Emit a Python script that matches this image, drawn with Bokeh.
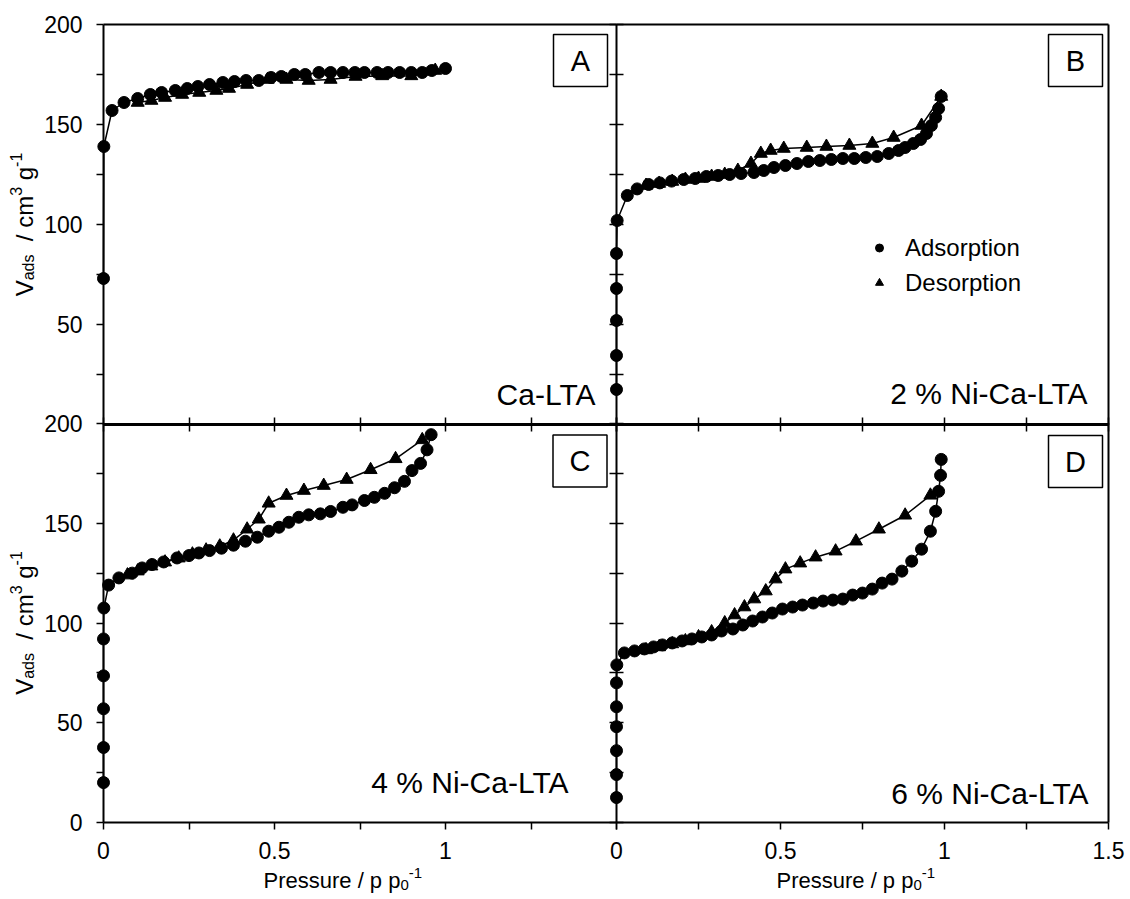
from bokeh.plotting import figure
from bokeh.models import (Range1d, LinearAxis, FixedTicker, CustomJSTickFormatter, Label,
                          Legend, LegendItem, Grid)
from bokeh.embed import file_html
from bokeh.resources import INLINE

# ---------------- data ----------------
# Panel A : Ca-LTA
A_ads_p = [0.0, 0.001, 0.025, 0.06, 0.10, 0.137, 0.17, 0.21, 0.245, 0.276, 0.31, 0.349, 0.383, 0.417, 0.454,
           0.49, 0.52, 0.558, 0.59, 0.63, 0.664, 0.70, 0.735, 0.763, 0.80, 0.832, 0.866, 0.90, 0.932, 0.96, 1.0]
A_ads_v = [73, 139, 157, 161, 163, 165, 166, 167, 168, 169, 170, 171, 171.5, 172, 172,
           173.5, 174, 175, 175, 176, 176, 176, 176, 176, 176, 176, 176, 176, 176, 177, 178]
A_des_p = [0.97, 0.90, 0.815, 0.737, 0.664, 0.60, 0.535, 0.48, 0.42, 0.367, 0.33, 0.28, 0.23, 0.18, 0.14, 0.10]
A_des_v = [177, 174.3, 174.3, 174, 172.5, 172, 172.5, 172.5, 170, 168, 167, 166, 165, 163.5, 162, 161]

# Panel B : 2 % Ni-Ca-LTA
B_ads_p = [0, 0, 0, 0, 0, 0.002, 0.033, 0.063, 0.098, 0.132, 0.168, 0.205, 0.24, 0.274, 0.31, 0.345, 0.38,
           0.419, 0.449, 0.48, 0.515, 0.55, 0.585, 0.62, 0.655, 0.69, 0.725, 0.76, 0.795, 0.83, 0.86, 0.88,
           0.905, 0.927, 0.945, 0.96, 0.973, 0.982, 0.99]
B_ads_v = [17.5, 34.5, 52, 68, 85.5, 102, 114.5, 117.8, 120, 120.8, 121.7, 122.5, 123, 124, 124.5, 125, 125.5,
           126, 127, 128.5, 129.5, 130.5, 131.5, 132, 132.5, 133, 133, 133.5, 134, 135.5, 137, 138.5,
           140.5, 142.5, 145.5, 149.5, 153.5, 158, 164]
B_des_p = [0.99, 0.93, 0.845, 0.78, 0.71, 0.64, 0.58, 0.51, 0.47, 0.44, 0.41, 0.37, 0.33, 0.29, 0.25, 0.21,
           0.17, 0.13, 0.09]
B_des_v = [164, 149.5, 143.5, 140.5, 139.5, 139, 138.5, 138, 137, 135.5, 130.5, 127, 125, 124, 123, 122.5,
           121.5, 120.5, 119.5]

# Panel C : 4 % Ni-Ca-LTA
C_ads_p = [0, 0, 0, 0, 0, 0.001, 0.015, 0.045, 0.084, 0.113, 0.142, 0.176, 0.215, 0.25, 0.279, 0.31, 0.345,
           0.38, 0.415, 0.45, 0.483, 0.513, 0.542, 0.571, 0.60, 0.634, 0.664, 0.70, 0.727, 0.763, 0.792,
           0.822, 0.851, 0.88, 0.902, 0.927, 0.946, 0.958]
C_ads_v = [20, 37.6, 57, 73.5, 92, 107.5, 119, 122.6, 125, 127.6, 129.3, 130.6, 132.6, 133.8, 135.1, 136.3,
           137.5, 139, 141, 143, 146, 148, 150.5, 153, 154.2, 154.7, 155.9, 158, 159.2, 161.4, 163,
           165, 167.8, 171, 176.4, 180, 186.8, 194.4]
C_des_p = [0.932, 0.854, 0.781, 0.711, 0.644, 0.586, 0.535, 0.483, 0.454, 0.42, 0.38, 0.34, 0.30, 0.26,
           0.22, 0.18, 0.14, 0.10, 0.07]
C_des_v = [191.8, 182.3, 176.8, 171.9, 168.9, 166.4, 163.9, 160, 152, 147, 141.5, 138.5, 136.5, 134.5,
           132.5, 130.5, 128.5, 126, 124]

# Panel D : 6 % Ni-Ca-LTA
D_ads_p = [0, 0, 0, 0, 0, 0, 0.001, 0.024, 0.055, 0.085, 0.113, 0.14, 0.17, 0.2, 0.23, 0.26, 0.29, 0.32,
           0.355, 0.385, 0.415, 0.445, 0.475, 0.506, 0.537, 0.567, 0.6, 0.63, 0.66, 0.69, 0.72, 0.75, 0.78,
           0.81, 0.84, 0.87, 0.9, 0.93, 0.957, 0.973, 0.982, 0.988, 0.99]
D_ads_v = [12.5, 24, 36, 48, 58, 70, 79, 85, 86, 87, 88, 89, 90, 91, 92, 93, 94, 96,
           97, 99, 101, 103, 105, 107, 108, 109, 110, 111, 111.5, 112, 114, 115, 117,
           120, 122, 126, 131, 137, 146, 156, 166, 174, 182]
D_des_p = [0.957, 0.88, 0.80, 0.73, 0.668, 0.607, 0.56, 0.515, 0.485, 0.455, 0.42, 0.39, 0.36, 0.33, 0.29,
           0.25, 0.21, 0.17, 0.13, 0.09]
D_des_v = [164, 154, 147, 141, 136, 133, 130, 127, 122, 116, 112, 108, 104, 100, 95.5,
           93, 91, 89.5, 88, 86.5]

panel_letters = ["A", "B", "C", "D"]
panel_names = ["Ca-LTA", "2 % Ni-Ca-LTA", "4 % Ni-Ca-LTA", "6 % Ni-Ca-LTA"]
legend_labels = ["Adsorption", "Desorption"]
y_ticks = [0, 50, 100, 150, 200]
y_minor = [25, 75, 125, 175]
x_ticks_left = [0, 0.5, 1]
x_ticks_right = [0, 0.5, 1, 1.5]
x_minor = [0.25, 0.75, 1.25]

# ---------------- layout constants (pixels) ----------------
FONT = "Liberation Sans"
CW, CH = 1125, 899          # canvas = frame (everything is drawn inside the frame)
X0L, X0R = 103, 616         # pixel of p = 0 in left / right panels
KL, KR = 342.0, 328.0       # pixels per unit of p
YT200, KT = 24, 2.0         # top panels: pixel of V = 200, pixels per unit V
YB0, KB = 822, 1.995        # bottom panels: pixel of V = 0, pixels per unit V

p = figure(frame_width=CW, frame_height=CH,
           x_range=Range1d(-X0L / KL, (CW - X0L) / KL),
           y_range=Range1d(-(CH - YB0) / KB, YB0 / KB),
           x_axis_location=None, y_axis_location=None,
           toolbar_location=None, tools="", output_backend="svg",
           min_border=0, min_border_left=0, min_border_right=0, min_border_top=0, min_border_bottom=0,
           outline_line_color=None, background_fill_color="white", border_fill_color="white")
p.extra_x_ranges = {"xr": Range1d(-X0R / KR, (CW - X0R) / KR)}
p.extra_y_ranges = {"yt": Range1d(200 - (CH - YT200) / KT, 200 + YT200 / KT)}
p.center = [c for c in p.center if not isinstance(c, Grid)]


def add_axis(place, xr="default", yr="default", loc=0, ticks=(), minor=(), bounds="auto",
             t_in=0, t_out=7, lw=2, standoff=12):
    ax = LinearAxis(x_range_name=xr, y_range_name=yr, fixed_location=loc, bounds=bounds,
                    ticker=FixedTicker(ticks=list(ticks), minor_ticks=list(minor)),
                    formatter=CustomJSTickFormatter(code="return tick.toString()"),
                    axis_line_color="black", axis_line_width=lw,
                    major_tick_in=t_in, major_tick_out=t_out, minor_tick_in=t_in, minor_tick_out=t_out,
                    major_tick_line_color="black", minor_tick_line_color="black",
                    major_tick_line_width=1.5, minor_tick_line_width=1.5,
                    major_label_text_font=FONT, major_label_text_font_size="23px",
                    major_label_text_color="black", major_label_standoff=standoff)
    p.add_layout(ax, place)
    return ax


# frame borders (top and right)
add_axis("above", yr="yt", loc=200, bounds=(0, 1.5), t_out=0)
add_axis("above", xr="xr", yr="yt", loc=200, bounds=(0, 1.5), t_out=0)
add_axis("right", xr="xr", yr="yt", loc=1.5, bounds=(0, 200), t_out=0)
add_axis("right", xr="xr", loc=1.5, bounds=(0, 200), t_out=0)
# left y axes (labelled)
add_axis("left", yr="yt", loc=0, ticks=y_ticks[1:], minor=y_minor, bounds=(0, 200), standoff=14)
add_axis("left", loc=0, ticks=y_ticks, minor=y_minor, bounds=(0, 200), standoff=14)
# middle vertical axes (crossing ticks, no labels)
add_axis("left", xr="xr", yr="yt", loc=0, minor=y_ticks + y_minor, bounds=(0, 200), t_in=7, t_out=7)
add_axis("left", xr="xr", loc=0, minor=y_ticks + y_minor, bounds=(0, 200), t_in=7, t_out=7)
# middle horizontal axes (crossing ticks, no labels)
add_axis("below", yr="yt", loc=0, minor=x_ticks_right + x_minor, bounds=(0, 1.5), t_in=7, t_out=7, lw=3)
add_axis("below", xr="xr", yr="yt", loc=0, minor=x_ticks_right + x_minor, bounds=(0, 1.5), t_in=7, t_out=7, lw=3)
# bottom x axes (labelled)
add_axis("below", loc=0, ticks=x_ticks_left, minor=x_minor + [1.5], bounds=(0, 1.5), standoff=12)
add_axis("below", xr="xr", loc=0, ticks=x_ticks_right, minor=x_minor, bounds=(0, 1.5), standoff=12)

# ---------------- data series ----------------
panels = [
    ("default", "yt", A_ads_p, A_ads_v, A_des_p, A_des_v),
    ("xr", "yt", B_ads_p, B_ads_v, B_des_p, B_des_v),
    ("default", "default", C_ads_p, C_ads_v, C_des_p, C_des_v),
    ("xr", "default", D_ads_p, D_ads_v, D_des_p, D_des_v),
]
scatters = []
for xr, yr, ap, av, dp, dv in panels:
    kw = dict(x_range_name=xr, y_range_name=yr)
    p.line(dp, dv, line_color="black", line_width=1.5, **kw)
    p.line(ap, av, line_color="black", line_width=1.5, **kw)
    rd = p.scatter(dp, dv, marker="triangle", size=13, fill_color="black", line_color="black", **kw)
    ra = p.scatter(ap, av, marker="circle", size=12, fill_color="black", line_color="black", **kw)
    scatters.append((ra, rd))

# ---------------- panel letters in boxes & sample names ----------------
box_off = [(-36, -36), (-33, -36), (-36.5, -37.5), (-33, -38)]
name_off = [(-21, 30), (-21, 31), (-48, 40), (-20, 29)]
for i, (xr, yr, *_r) in enumerate(panels):
    k = KL if xr == "default" else KR
    ky = KT if yr == "yt" else KB
    bx = 1.5 + box_off[i][0] / k
    by = 200 + box_off[i][1] / ky
    p.rect(x=[bx], y=[by], width=54, height=52, width_units="screen", height_units="screen",
           fill_color="white", line_color="black", line_width=1.5, x_range_name=xr, y_range_name=yr)
    p.add_layout(Label(x=bx, y=by, x_range_name=xr, y_range_name=yr, text=panel_letters[i],
                       text_align="center", text_baseline="middle", text_font=FONT,
                       text_font_size="29px", text_color="black"))
    p.add_layout(Label(x=1.5, y=0, x_range_name=xr, y_range_name=yr, text=panel_names[i],
                       x_offset=name_off[i][0], y_offset=name_off[i][1],
                       text_align="right", text_baseline="alphabetic", text_font=FONT,
                       text_font_size="30px", text_color="black"))

# ---------------- axis titles built from pieces (sub/superscripts) ----------------
ADV = {'V': .667, 'a': .556, 'd': .556, 's': .5, '/': .278, 'c': .5, 'm': .833, '3': .556, 'g': .556,
       '-': .333, '1': .556, ' ': .278, 'P': .667, 'r': .333, 'e': .556, 'u': .556, 'p': .556, '0': .556}


def tw(t, size):
    return sum(ADV[c] for c in t) * size


SPY = 0.278 * 24
SPX = 0.278 * 22
ytitle = [("V", 24, 0, 0), ("ads", 16, 4, 0), ("/", 24, 0, 2 * SPY), ("cm", 24, 0, SPY), ("3", 16, -9, 0),
          ("g", 24, 0, SPY), ("-1", 16, -9, 0)]
xtitle = [("Pressure", 22, 0, 0), ("/", 22, 0, SPX), ("p", 22, 0, SPX), ("p", 22, 0, SPX), ("0", 15, 4, 0),
          ("-1", 15, -8, 0)]

# y titles (rotated), centred on each left panel
total = sum(tw(t, s) + g for t, s, _, g in ytitle)
for yr in ["yt", "default"]:
    pos = -total / 2
    for t, s, sh, g in ytitle:
        pos += g
        p.add_layout(Label(x=0, y=100, y_range_name=yr, text=t, angle=1.5707963, x_offset=-79 + sh,
                           y_offset=pos, text_align="left", text_baseline="alphabetic", text_font=FONT,
                           text_font_size=f"{s}px", text_color="black"))
        pos += tw(t, s)

# x titles below each bottom panel
for xr in ["default", "xr"]:
    pos = 160
    for t, s, sh, g in xtitle:
        pos += g
        p.add_layout(Label(x=0, y=0, x_range_name=xr, text=t, x_offset=pos, y_offset=-58 - sh,
                           text_align="left", text_baseline="alphabetic", text_font=FONT,
                           text_font_size=f"{s}px", text_color="black"))
        pos += tw(t, s)

# ---------------- legend ----------------
ra_b, rd_b = scatters[1]
legend = Legend(items=[LegendItem(label=legend_labels[0], renderers=[ra_b]),
                       LegendItem(label=legend_labels[1], renderers=[rd_b])],
                location=(869, CH - 300), orientation="vertical", border_line_color=None,
                background_fill_alpha=0, padding=0, spacing=0, margin=0, glyph_width=20,
                glyph_height=35, label_height=35, label_standoff=16,
                label_text_font=FONT, label_text_font_size="24px", label_text_color="black")
p.add_layout(legend)

open("out.html", "w").write(file_html(p, INLINE, title="Isotherms"))
